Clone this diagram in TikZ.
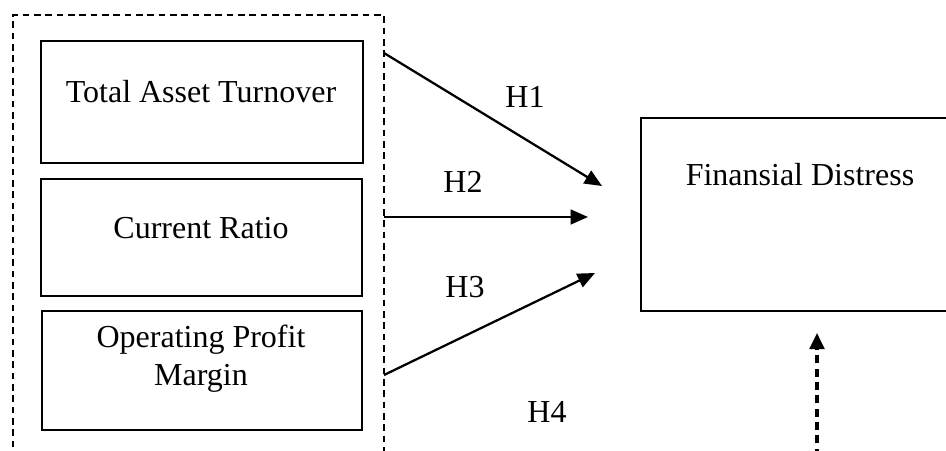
\documentclass[tikz,border=0pt]{standalone}
\usepackage{fontspec}
\setmainfont{Liberation Serif}
\usetikzlibrary{arrows.meta}
\begin{document}
\begin{tikzpicture}[x=0.75pt,y=-0.75pt,
  box/.style={draw, line width=1.8pt, inner sep=0pt, anchor=north west},
  lbl/.style={font=\fontsize{24}{28.5}\selectfont, inner sep=0pt, align=center},
  arr/.style={line width=1.7pt, -{Triangle[length=13pt,width=11pt]}},
  grp/.style={line width=1.3pt, dash pattern=on 5pt off 3.5pt},
  darr/.style={line width=2.3pt, dash pattern=on 6pt off 4pt, -{Triangle[length=12pt,width=11pt]}}
]
\useasboundingbox (0,0) rectangle (946,450);
\clip (0,0) rectangle (946,450);
\fill[white] (0,0) rectangle (946,450);

% dashed group frame
\draw[grp] (13,470) -- (13,15) -- (384,15) -- (384,470);

% boxes
\node[box, minimum width=241.5pt, minimum height=91.5pt] (b1) at (40,40) {};
\node[box, minimum width=240.75pt, minimum height=87.75pt] (b2) at (40,178) {};
\node[box, minimum width=240pt, minimum height=89.25pt] (b3) at (41,310) {};
\node[box, minimum width=255pt, minimum height=144.75pt] (fd) at (640,117) {};

% texts
\node[lbl] (t1) at (201,92) {Total Asset Turnover};
\node[lbl] (t2) at (201,228) {Current Ratio};
\node[lbl] (t3) at (201,359) {Operating Profit\\Margin};
\node[lbl] (t4) at (800,175) {Finansial Distress};

% hypothesis labels
\node[lbl] (h1) at (525,97) {H1};
\node[lbl] (h2) at (463,182) {H2};
\node[lbl] (h3) at (465,287) {H3};
\node[lbl] (h4) at (547,412) {H4};

% connector endpoints
\coordinate (s1) at (384,53);
\coordinate (e1) at (602,186);
\coordinate (s2) at (384,217);
\coordinate (e2) at (588,217);
\coordinate (s3) at (384,375);
\coordinate (e3) at (595,273);
\coordinate (s4) at (817,470);
\coordinate (e4) at (817,333);

\draw[arr] (s1) -- (e1);
\draw[arr] (s2) -- (e2);
\draw[arr] (s3) -- (e3);
\draw[darr] (s4) -- (e4);
\end{tikzpicture}
\end{document}
